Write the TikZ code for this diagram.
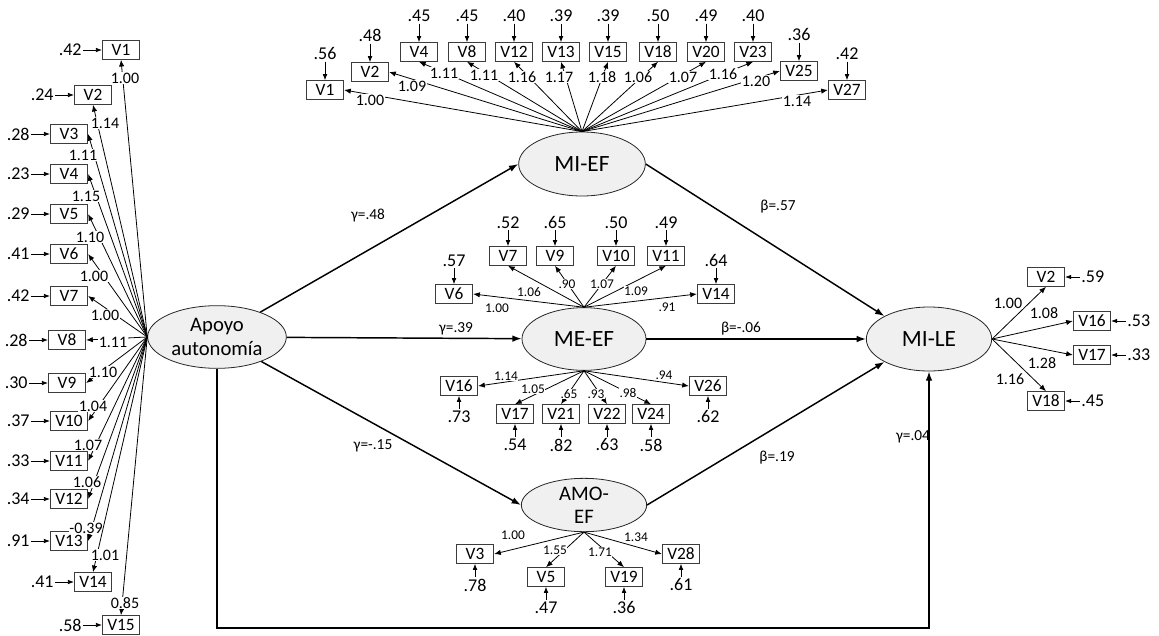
\documentclass[tikz,border=0pt]{standalone}
\usepackage{fontspec}
\setmainfont{Carlito}
\usepackage{tikz}
\usetikzlibrary{arrows.meta,positioning,shapes.geometric}
\definecolor{ink}{HTML}{262626}
\definecolor{shade}{HTML}{F0F0F0}
\tikzset{latent/.style={ellipse,draw=ink,fill=shade,line width=.6pt,align=center,inner sep=0pt,minimum width=95pt,minimum height=47pt,font=\fontsize{17.5}{19}\selectfont}, item/.style={draw=ink!90,line width=.7pt,minimum width=28pt,minimum height=14pt,inner sep=0pt,font=\fontsize{13}{14}\selectfont}, errlab/.style={inner sep=1pt,font=\fontsize{13.5}{15}\selectfont},load/.style={inner sep=.5pt,fill=white,font=\fontsize{12}{13}\selectfont},smallload/.style={load,font=\fontsize{10}{11}\selectfont},coef/.style={font=\fontsize{11.5}{13}\selectfont},loadline/.style={line width=.6pt,-{Latex[length=5pt,width=4pt]}},errline/.style={line width=.6pt,-{Latex[length=4.5pt,width=3.5pt]}},pathline/.style={line width=1.1pt,-{Latex[length=7pt,width=5pt]}}}

\begin{document}
\begin{tikzpicture}[x=.75pt,y=-.75pt]
\useasboundingbox (0,0) rectangle (1159,635);
\node[latent,minimum width=104pt,font=\fontsize{15.5}{17.5}\selectfont] (apoyo) at (217,337) {Apoyo\\autonomía};
\node[latent,minimum width=95pt,minimum height=48pt] (mief) at (582,164) {MI-EF};
\node[latent,minimum width=93pt] (meef) at (584,339) {ME-EF};
\node[latent,minimum width=94pt,minimum height=40pt,inner ysep=-2pt,font=\fontsize{15.5}{17.5}\selectfont] (amoef) at (584,505) {AMO-\\EF};
\node[latent,minimum width=94pt,minimum height=48pt] (mile) at (929,339) {MI-LE};
% apoyo autonomia
\foreach \v/\x/\y/\e in {1/121/50/.42,2/93/95/.24,3/69/134/.28,4/69/174/.23,5/69/214/.29,6/69/254/.41,7/69/296/.42,8/67/340/.28,9/67/383/.30,10/69/421/.37,11/69/461/.33,12/69/499/.34,13/69/541/.91,14/93/582/.41,15/121/625/.58}{
 \node[item] (a\v) at (\x,\y) {V\v};
 \node[errlab,left=14pt of a\v] (ea\v) {\e};
 \draw[errline] (ea\v) -- (a\v);
}
\foreach \v/\anc/\lx/\ly/\w in {1/south/125/78/1.00,2/south/105/123/1.14,3/east/83/155/1.11,4/east/86/196/1.15,5/east/90/237/1.10,6/east/94/276/1.00,7/east/105/315/1.00,8/east/113/342/1.11,9/east/103/372/1.10,10/east/93/406/1.04,11/east/88/445/1.07,12/east/87/482/1.06,13/east/86/528/-0.39,14/north/105/555/1.01,15/north/125/603/0.85}{
 \draw[loadline] (apoyo.west) -- (a\v.\anc);
 \node[load] (wa\v) at (\lx,\ly) {\w};
}
% MI-EF
\foreach \v/\x/\y/\e in {1/325/90/.56,2/370/72/.48,4/419/52/.45,8/467/52/.45,12/514/52/.40,13/561/52/.39,15/608/52/.39,18/658/52/.50,20/706/52/.49,23/753/52/.40,25/799/71/.36,27/847/90/.42}{
 \node[item] (f\v) at (\x,\y) {V\v};
 \node[errlab,above=14pt of f\v] (ef\v) {\e};
 \draw[errline] (ef\v) -- (f\v);
}
\foreach \v/\anc/\lx/\ly/\w in {1/east/370/100/1.00,2/east/412/86/1.09,4/south/444/73/1.11,8/south/484/75/1.11,12/south/522/77/1.16,13/south/559/77/1.17,15/south/602/77/1.18,18/south/638/77/1.06,20/south/683/77/1.07,23/south/723/74/1.16,25/west/756/81/1.20,27/west/797/101/1.14}{
 \draw[loadline] (mief.north) -- (f\v.\anc);
 \node[load] (wf\v) at (\lx,\ly) {\w};
}
% ME-EF
\foreach \v/\x/\y/\e in {6/454/294/.57,7/508/256/.52,9/555/256/.65,10/616/256/.50,11/666/256/.49,14/716/294/.64}{
 \node[item] (m\v) at (\x,\y) {V\v};
 \node[errlab,above=12pt of m\v] (em\v) {\e};
 \draw[errline] (em\v) -- (m\v);
}
\foreach \v/\x/\y/\e in {16/459/386/.73,17/515/414/.54,21/561/414/.82,22/607/414/.63,24/651/414/.58,26/708/386/.62}{
 \node[item] (m\v) at (\x,\y) {V\v};
 \node[errlab,below=10pt of m\v] (em\v) {\e};
 \draw[errline] (em\v) -- (m\v);
}
\foreach \v/\anc/\lx/\ly/\w in {6/east/497/308/1.00,7/south/529/292/1.06,9/south/567/284/.90,10/south/602/284/1.07,11/south/636/291/1.09,14/west/667/307/.91}{
 \draw[loadline] (meef.north) -- (m\v.\anc);
 \node[smallload] (wm\v) at (\lx,\ly) {\w};
}
\foreach \v/\anc/\lx/\ly/\w in {16/east/506/376/1.14,17/north/533/389/1.05,21/north/569/394/.65,22/north/596/394/.93,24/north/628/393/.98,26/west/664/375/.94}{
 \draw[loadline] (meef.south) -- (m\v.\anc);
 \node[smallload] (wm\v) at (\lx,\ly) {\w};
}
% AMO-EF
\foreach \v/\x/\y/\e in {3/475/554/.78,5/546/577/.47,19/624/577/.36,28/681/554/.61}{
 \node[item] (o\v) at (\x,\y) {V\v};
 \node[errlab,below=10pt of o\v] (eo\v) {\e};
 \draw[errline] (eo\v) -- (o\v);
}
\foreach \v/\anc/\lx/\ly/\w in {3/east/513/535/1.00,5/north/555/550/1.55,19/north/600/552/1.71,28/west/636/537/1.34}{
 \draw[loadline] (amoef.south) -- (o\v.\anc);
 \node[smallload] (wo\v) at (\lx,\ly) {\w};
}
% MI-LE
\foreach \v/\x/\y/\e in {2/1046/277/.59,16/1092/321/.53,17/1092/355/.33,18/1046/401/.45}{
 \node[item] (l\v) at (\x,\y) {V\v};
 \node[errlab,right=11pt of l\v] (el\v) {\e};
 \draw[errline] (el\v) -- (l\v);
}
\foreach \v/\anc/\lx/\ly/\w in {2/south/1008/303/1.00,16/west/1044/313/1.08,17/west/1042/363/1.28,18/north/1010/379/1.16}{
 \draw[loadline] (mile.east) -- (l\v.\anc);
 \node[load] (wl\v) at (\lx,\ly) {\w};
}
% structural paths
\draw[pathline] (apoyo) -- (mief.west);
\draw[pathline] (apoyo) -- (meef);
\draw[pathline] (apoyo) -- (amoef.west);
\draw[pathline] (mief.east) -- (mile.north west);
\draw[pathline] (meef) -- (mile);
\draw[pathline] (amoef.east) -- (mile.south west);
\draw[pathline] (apoyo.south) -- (apoyo.south |- 0,628) -| (mile.south);
\node[coef] (g1) at (368,215) {γ=.48};
\node[coef] (g2) at (456,329) {γ=.39};
\node[coef] (g3) at (373,446) {γ=-.15};
\node[coef] (g4) at (913,437) {γ=.04};
\node[coef] (b1) at (778,207) {β=.57};
\node[coef] (b2) at (741,329) {β=-.06};
\node[coef] (b3) at (777,458) {β=.19};
\end{tikzpicture}
\end{document}
